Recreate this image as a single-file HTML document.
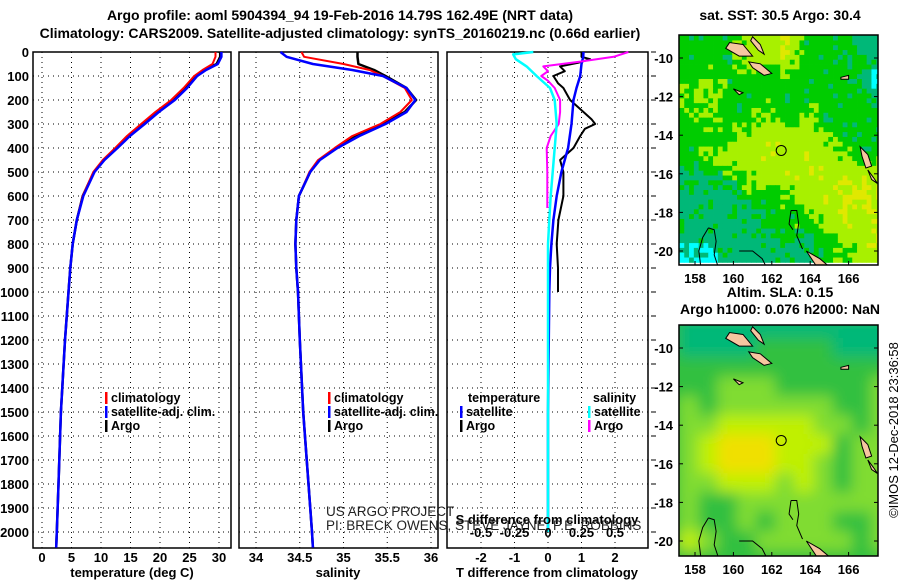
<!DOCTYPE html>
<html><head><meta charset="utf-8"><style>
body{margin:0;background:#fff}
svg{display:block;font-family:"Liberation Sans",Arial,sans-serif}
.t{font-weight:bold;font-size:14px}
.k{font-weight:bold;font-size:13px}
.l{font-weight:bold;font-size:12.5px}
</style></head><body>
<svg id="s" width="900" height="580" viewBox="0 0 900 580" xmlns="http://www.w3.org/2000/svg">
<text class="t" x="340" y="20" text-anchor="middle">Argo profile: aoml 5904394_94 19-Feb-2016 14.79S 162.49E (NRT data)</text>
<text class="t" x="340" y="38" text-anchor="middle">Climatology: CARS2009. Satellite-adjusted climatology: synTS_20160219.nc (0.66d earlier)</text>
<text class="t" x="780" y="20" text-anchor="middle">sat. SST: 30.5 Argo: 30.4</text>
<text class="t" x="780" y="297" text-anchor="middle">Altim. SLA: 0.15</text>
<text class="t" x="780" y="314" text-anchor="middle">Argo h1000: 0.076 h2000: NaN</text>
<text x="894" y="430" font-size="13" text-anchor="middle" transform="rotate(-90 894 430)" dy="4">©IMOS 12-Dec-2018 23:36:58</text>
<g id="g"></g>
</svg>
<script>
// ---------- data ----------
const depthT = [0,20,50,75,100,150,200,250,300,350,400,450,500,600,700,800,900,1000,1200,1500,1800,2000,2065];
const tempArgo = [30.2,30.2,29.6,27.5,26.0,24.3,22.2,19.6,17.2,14.8,12.7,10.5,8.8,6.9,5.9,5.2,4.8,4.5,3.9,3.2,2.8,2.5,2.4];
const tempClim = [29.4,29.4,28.9,27.2,25.8,24.0,21.9,19.2,16.8,14.4,12.4,10.3,8.7,6.9,5.9,5.2,4.8,4.5,3.9,3.2,2.8,2.5,2.4];
const tempSat  = [30.4,30.4,29.8,27.8,26.3,24.6,22.5,19.8,17.4,14.9,12.8,10.6,8.9,7.0,5.9,5.2,4.8,4.5,3.9,3.2,2.8,2.5,2.4];
const salArgo = [35.16,35.16,35.17,35.35,35.48,35.72,35.83,35.70,35.45,35.15,34.92,34.72,34.62,34.49,34.46,34.45,34.46,34.48,34.50,34.54,34.60,34.64,34.65];
const salClim = [34.52,34.55,35.00,35.30,35.45,35.70,35.78,35.65,35.42,35.10,34.90,34.71,34.61,34.49,34.46,34.45,34.46,34.48,34.50,34.54,34.60,34.64,34.65];
const salSat  = [34.28,34.35,34.65,35.10,35.45,35.72,35.82,35.72,35.48,35.18,34.93,34.73,34.62,34.49,34.46,34.45,34.46,34.48,34.50,34.54,34.60,34.64,34.65];
const dTArgoDepth = [0,20,30,45,60,80,100,130,150,200,250,280,300,320,350,400,450,500,600,700,800,900,1000];
const dTArgo = [1.0,1.0,1.26,0.9,0.36,0.5,0.16,0.3,0.46,0.66,1.06,1.3,1.41,1.1,0.96,0.76,0.36,0.46,0.46,0.31,0.26,0.3,0.3];
const dTSatDepth = [0,20,50,100,150,200,300,400,500,600,700,800,900,1000,1500,2000];
const dTSat = [1.06,1.05,1.0,0.96,0.85,0.76,0.7,0.6,0.4,0.26,0.16,0.1,0.06,0.04,0.0,0.0];
const dSSatDepth = [0,10,30,60,100,150,200,300,400,500,600,700,800,1000,2000];
const dSSat = [-0.11,-0.26,-0.24,-0.16,-0.085,0.015,0.05,0.065,0.05,0.035,0.02,0.01,0.0,0.0,0.0];
const dSArgoDepth = [0,20,40,60,80,100,120,150,200,250,300,350,400,500,600,650];
const dSArgo = [0.6,0.49,0.24,-0.035,0.0,-0.05,0.0,0.05,0.09,0.09,0.08,0.02,-0.01,-0.005,-0.005,-0.005];
const depthTicks = [0,100,200,300,400,500,600,700,800,900,1000,1100,1200,1300,1400,1500,1600,1700,1800,1900,2000];
const tempTicks = [0,5,10,15,20,25,30];
const salTicks = [34,34.5,35,35.5,36];
const dTTicks = [-2,-1,0,1,2];
const dSTicks = [-0.5,-0.25,0,0.25,0.5];
const dSTickLabels = ['-0.5','-0.25','0','0.25','0.5'];
const lonTicks = [158,160,162,164,166];
const latTicks = [-10,-12,-14,-16,-18,-20];
// SST map coarse grid (1 deg cells, rows lat -9..-20, cols lon 157.2..); 4 = cyan patch
const sstGrid = [
[1,1,1,2,2,3,1,1,1,0,0],
[1,1,1,1.8,1.8,2,1,1,1,1,0],
[1,1.6,1,1,1,1,1,1,1,0,4],
[1.6,1.6,1,1,1,1,1,1,1,1,0],
[1,1.6,1,1,1.6,1,1.5,1,1,1,1],
[1,1,1.2,1.8,2,2,2,1.5,1,1,1],
[1,1.6,1.8,2,2.2,2,2.2,1.9,1.6,1,1],
[0.5,0.5,1.2,1.8,2,2.2,2.2,2.3,2.2,2.4,2],
[0.3,0.3,0.4,1,1,1.3,2,2.3,2.6,2.6,2],
[0.3,0.3,0.3,0.3,1,1,1.3,2,2.2,2,2],
[0.3,0.3,0.3,0.3,0.3,1,1,1.3,2,2,2.6],
[4,4,0.3,0.3,0.3,0.3,0.3,1,1.3,2,2]];
const slaGrid = [
[0,0,0,0,0,0,0,0,0,0,0],
[0,0,0,0,1,1,1,1,0,0,0],
[1,1,1,1,1,1,1,1,1,1,1],
[1,1,2,2,2,1,1,1,1,1,2],
[2,1,2,2,2,2,2,2,1,1,2],
[2,2,3,3,3,3,3,2,2,1,2],
[2,3,4,4,4,3,3,3,1,2,2],
[2,3,4,4,4,3,3,2,1,2,2],
[2,2,3,3,3,2,3,2,1,2,2],
[2,1,1,2,2,2,2,2,2,2,2],
[2,1,1,2,1,2,2,2,1,1,2],
[3,2,1,1,2,2,2,2,2,1,2]];
const argoLon = 162.49, argoLat = -14.79;

// ---------- helpers ----------
const NS='http://www.w3.org/2000/svg';
const G=document.getElementById('g');
function el(tag,attrs,parent){const e=document.createElementNS(NS,tag);for(const k in attrs)e.setAttribute(k,attrs[k]);(parent||G).appendChild(e);return e;}
const py = d => 52 + d*0.24;
const BOT = 548, TOP = 52;
const panels = [
 {x0:33,x1:231,px:v=>42+v*5.9,ticks:tempTicks,name:'temperature'},
 {x0:239,x1:438,px:v=>256+(v-34)*87.5,ticks:salTicks,name:'salinity'},
 {x0:447,x1:648,px:v=>548+v*33.5,ticks:dTTicks,name:'difference'}];

panels.forEach((p,i)=>{
  p.ticks.forEach(t=>{const x=p.px(t);
    const gl=el('line',{x1:x,x2:x,y1:TOP,y2:BOT,stroke:'#000','stroke-width':1,'stroke-dasharray':'1,4'});
    
    
    const tl=el('text',{x:x,y:562,'text-anchor':'middle',class:'k'});tl.textContent=String(t);
    
    
  });
  depthTicks.forEach(d=>{const y=py(d);
    const gl=el('line',{x1:p.x0,x2:p.x1,y1:y,y2:y,stroke:'#000','stroke-width':1,'stroke-dasharray':'1,4'});
    
    
    if(i==2){const tk=el('line',{x1:p.x1+3,x2:p.x1+8,y1:y,y2:y,stroke:'#000'});
      
      }
  });
  const r=el('rect',{x:p.x0,y:TOP,width:p.x1-p.x0,height:BOT-TOP,fill:'none',stroke:'#000','stroke-width':1.5});
  
  
});
depthTicks.forEach(d=>{const t=el('text',{x:29,y:py(d)+5,'text-anchor':'end',class:'k'});t.textContent=d;
  
  });

function line(depths,vals,px,color,name,w){
  const pts=depths.map((d,i)=>px(vals[i]).toFixed(1)+','+py(Math.min(d,2065)).toFixed(1)).join(' ');
  const e=el('polyline',{points:pts,fill:'none',stroke:color,'stroke-width':w||2,'stroke-linejoin':'round'});
  
  
}
const P=panels;
line(depthT,tempArgo,P[0].px,'#000','temp-argo-line',2.5);
line(depthT,tempClim,P[0].px,'#f00','temp-climatology-line',2);
line(depthT,tempSat,P[0].px,'#00f','temp-satellite-line',2.5);
line(depthT,salArgo,P[1].px,'#000','sal-argo-line',2.5);
line(depthT,salClim,P[1].px,'#f00','sal-climatology-line',2);
line(depthT,salSat,P[1].px,'#00f','sal-satellite-line',2.5);
const pS=v=>P[2].px(v*4);
line(dTArgoDepth,dTArgo,P[2].px,'#000','tdiff-argo-line',2);
line(dTSatDepth,dTSat,P[2].px,'#00f','tdiff-satellite-line',2.5);
line(dSArgoDepth,dSArgo,pS,'#f0f','sdiff-argo-line',2);
line(dSSatDepth,dSSat,pS,'#0ff','sdiff-satellite-line',2.5);

dSTicks.forEach((s,i)=>{const t=el('text',{x:pS(s),y:537,'text-anchor':'middle',class:'k'});t.textContent=dSTickLabels[i];
  
  });

function txt(x,y,s,cls,name,extra){const t=el('text',Object.assign({x:x,y:y,class:cls},extra||{}));t.textContent=s;
  
  return t;}
txt(132,577,'temperature (deg C)','k','temperature-axis-title',{'text-anchor':'middle'});
txt(338,577,'salinity','k','salinity-axis-title',{'text-anchor':'middle'});
txt(547,577,'T difference from climatology','k','tdiff-axis-title',{'text-anchor':'middle'});
txt(547,524,'S difference from climatology','k','sdiff-axis-title',{'text-anchor':'middle'});
txt(326,516,'US ARGO PROJECT','','credit-line-1',{'font-size':'13.5px',fill:'#222'});
txt(326,530,'PI: BRECK OWENS, STEVE JAYNE, P.E. ROBBINS','','credit-line-2',{'font-size':'13.5px',fill:'#222'});

function legItem(x,y,color,label,name){
  const m=el('rect',{x:x,y:y-10,width:2.5,height:12,fill:color});
  
  
  txt(x+6,y,label,'l',name);
}
[[105,'climatology','#f00'],[105,'satellite-adj. clim.','#00f'],[105,'Argo','#000']].forEach((a,i)=>legItem(a[0],402+i*14,a[2],a[1],'temp-legend-entry'));
[[328,'climatology','#f00'],[328,'satellite-adj. clim.','#00f'],[328,'Argo','#000']].forEach((a,i)=>legItem(a[0],402+i*14,a[2],a[1],'sal-legend-entry'));
txt(468,402,'temperature','l','tdiff-legend-header');
txt(593,402,'salinity','l','sdiff-legend-header');
legItem(460,416,'#00f','satellite','tdiff-legend-satellite');
legItem(460,430,'#000','Argo','tdiff-legend-argo');
legItem(588,416,'#0ff','satellite','sdiff-legend-satellite');
legItem(588,430,'#f0f','Argo','sdiff-legend-argo');

// ---------- maps ----------
const sstColors=['#00b878','#00cc00','#a8f000','#e0e800','#00ffff'];
const slaColors=['#00b878','#30c040','#80dc30','#c0f000','#f0e000'];
function interp(grid,fr,fc){
  const R=grid.length,C=grid[0].length;
  const r0=Math.max(0,Math.min(R-1,Math.floor(fr))),c0=Math.max(0,Math.min(C-1,Math.floor(fc)));
  const r1=Math.min(R-1,r0+1),c1=Math.min(C-1,c0+1);
  const a=Math.max(0,Math.min(1,fr-r0)),b=Math.max(0,Math.min(1,fc-c0));
  const g=(r,c)=>grid[r][c]===4?0.3:grid[r][c];
  return g(r0,c0)*(1-a)*(1-b)+g(r0,c1)*(1-a)*b+g(r1,c0)*a*(1-b)+g(r1,c1)*a*b;
}
function texture(i,j){ // deterministic scrambled speckle in [-0.5,0.5]
  let h=(i*374761393+j*668265263)>>>0; h=((h^(h>>>13))*1274126177)>>>0; h=(h^(h>>>16))>>>0;
  return (h%1000)/1000-0.5;
}
function map(y0,y1,grid,colors,name,blur){
  const X0=679,X1=878;
  const lx=lon=>695+(lon-158)*19.2;
  const ly=lat=>(y0+23)+(-10-lat)*19.3;
  const cp=el('clipPath',{id:'cp'+name});el('rect',{x:X0,y:y0,width:X1-X0,height:y1-y0},cp);
  const g=el('g',{'clip-path':'url(#cp'+name+')'});
  
  
  let gg=g;
  if(blur){
    const f=el('filter',{id:'bl'+name,x:'-10%',y:'-10%',width:'120%',height:'120%'});el('feGaussianBlur',{stdDeviation:7},f);
    gg=el('g',{filter:'url(#bl'+name+')'},g);
    el('rect',{x:X0-20,y:y0-20,width:240,height:y1-y0+40,fill:colors[1]},gg);
    grid.forEach((row,r)=>row.forEach((v,c)=>{
      const cell=el('rect',{x:lx(157.2+c)-0.5,y:ly(-8.5-r)-0.5,width:20.2,height:20.3,fill:colors[v]},gg);
      
      
    }));
  } else {
    const step=0.25, cw=19.2*step, ch=19.3*step;
    for(let i=0;i<48;i++){for(let j=0;j<42;j++){
      const lat=-8.6-i*step, lon=157.2+j*step;
      const fr=(-8.5-lat)-0.5, fc=(lon-157.2)-0.5;
      const nr=Math.max(0,Math.min(11,Math.round(-8.5-lat-0.5))), nc=Math.max(0,Math.min(10,Math.round(lon-157.2-0.5)));
      const tx=texture(i,j);
      let col;
      if(grid[nr][nc]===4 && tx>-0.25) col=colors[4];
      else{
        const v=interp(grid,fr,fc)+tx*0.9;
        col=v<0.65?colors[0]:v<1.45?colors[1]:v<2.45?colors[2]:colors[3];
      }
      const cell=el('rect',{x:lx(lon)-0.2,y:ly(lat)-0.2,width:cw+0.4,height:ch+0.4,fill:col},gg);
      
      
    }}
  }
  const isl=[[[159.8,-9.2],[160.5,-9.3],[161.0,-9.9],[160.3,-9.9],[159.6,-9.5]],
    [[161.0,-8.9],[161.4,-9.3],[161.6,-9.8],[161.3,-9.6],[160.9,-9.1]],
    [[160.8,-10.2],[161.4,-10.3],[162.0,-10.8],[161.6,-10.9],[161.0,-10.5]],
    [[166.6,-14.6],[167.0,-15.0],[167.2,-15.6],[166.9,-15.7],[166.7,-15.1]],
    [[167.0,-15.8],[167.3,-16.2],[167.5,-16.5],[167.2,-16.3]],
    [[163.8,-20.0],[164.5,-20.4],[165.1,-20.9],[164.4,-20.9]],
    [[160.0,-11.6],[160.5,-11.8],[160.3,-11.9]],
    [[165.6,-11.0],[166.0,-10.9],[166.0,-11.1],[165.6,-11.1]]];
  isl.forEach(p=>{const e=el('polygon',{points:p.map(q=>lx(q[0])+','+ly(q[1])).join(' '),fill:'#f6c6a0',stroke:'#000','stroke-width':1},g);
    
    });
  const reefs=[[[158.7,-18.8],[159.0,-18.9],[159.1,-19.5],[159.0,-20.2],[159.2,-20.8]],[[158.7,-18.8],[158.4,-19.3],[158.2,-20.0],[158.3,-20.8]],
    [[163.0,-17.9],[163.3,-17.9],[163.4,-18.6],[163.3,-19.2],[163.6,-19.9]],[[163.0,-17.9],[162.9,-18.6],[163.1,-18.9]],
    [[160.3,-20.0],[161.0,-20.0],[161.5,-20.4],[161.7,-20.8]]];
  reefs.forEach(p=>{const e=el('polyline',{points:p.map(q=>lx(q[0])+','+ly(q[1])).join(' '),fill:'none',stroke:'#000','stroke-width':1},g);
    
    });
  const c=el('circle',{cx:lx(argoLon),cy:ly(argoLat),r:5,fill:'none',stroke:'#000','stroke-width':1},g);
  
  
  const fr=el('rect',{x:X0,y:y0,width:X1-X0,height:y1-y0,fill:'none',stroke:'#000','stroke-width':1.5});
  
  
  lonTicks.forEach(l=>{const x=lx(l);el('line',{x1:x,x2:x,y1:y1,y2:y1-4,stroke:'#000'});
    txt(x,y1+18,String(l),'k',name+'-lon-label',{'text-anchor':'middle'});});
  latTicks.forEach(l=>{const y=ly(l);el('line',{x1:X1,x2:X1-4,y1:y,y2:y,stroke:'#000'});el('line',{x1:X0,x2:X0+4,y1:y,y2:y,stroke:'#000'});
    txt(X0-6,y+5,String(l),'k',name+'-lat-label',{'text-anchor':'end'});});
}
map(35,265,sstGrid,sstColors,'sst',false);
map(325,556,slaGrid,slaColors,'sla',true);
</script>
</body></html>
